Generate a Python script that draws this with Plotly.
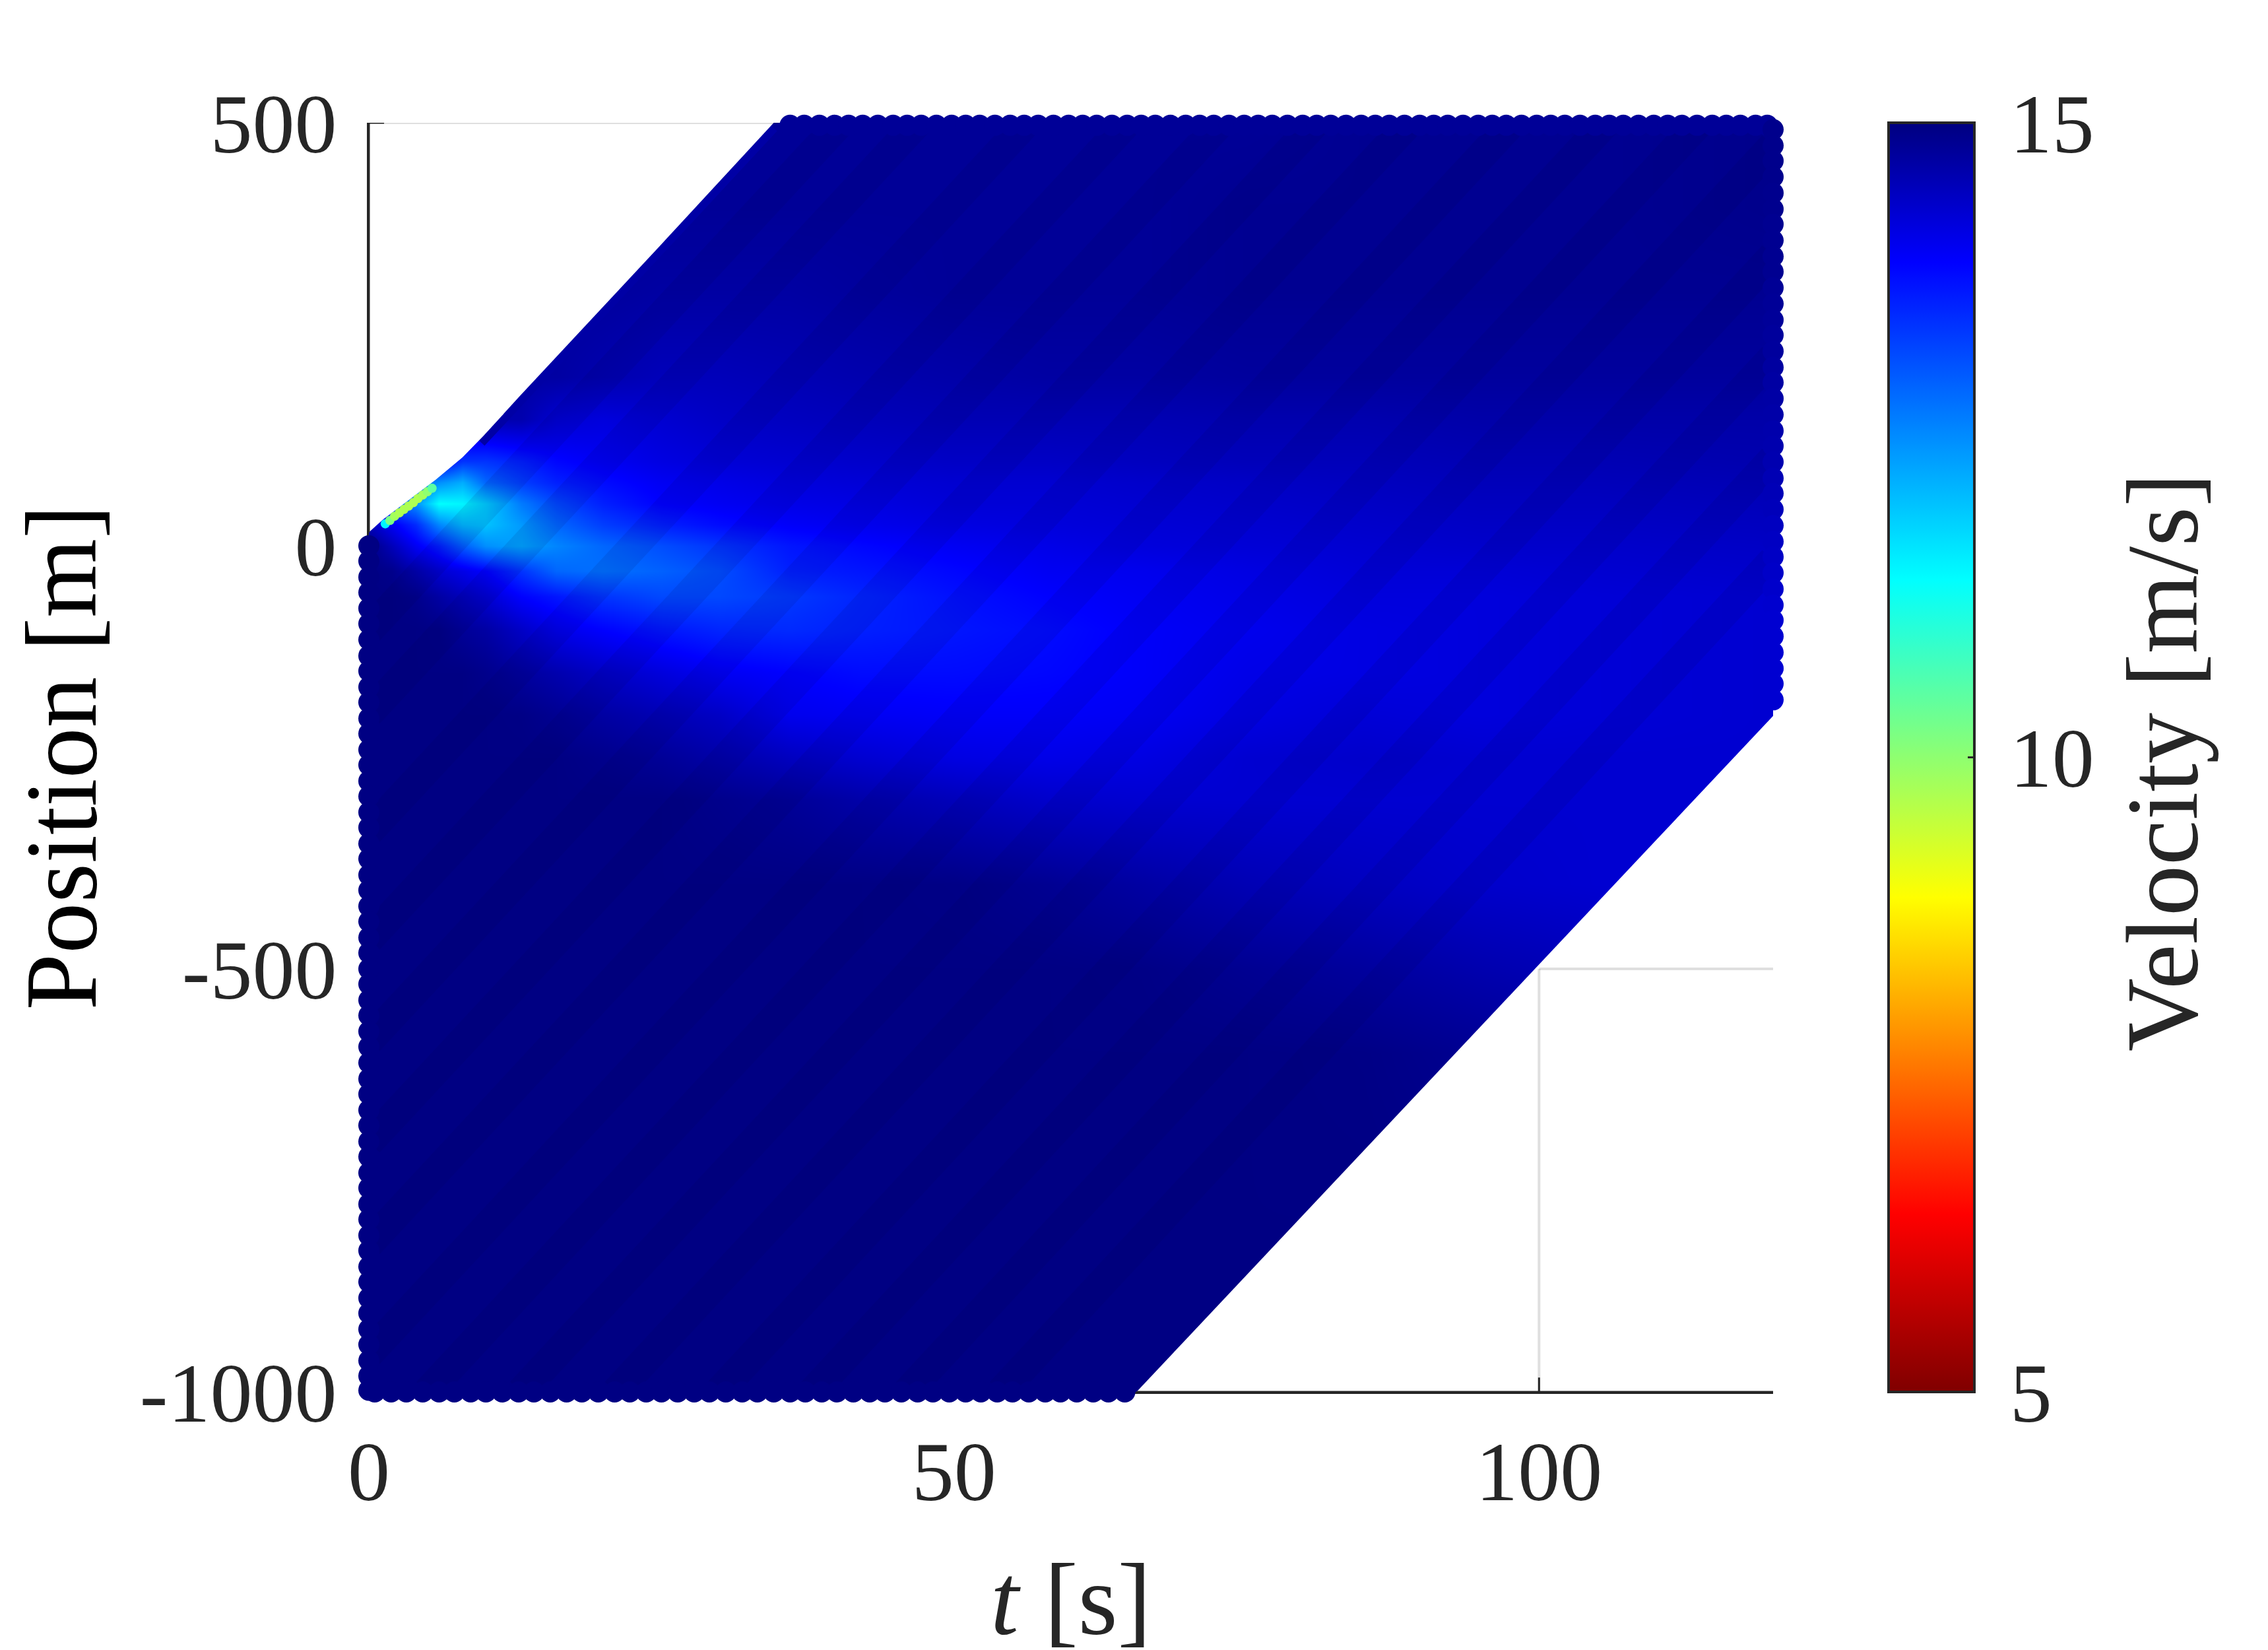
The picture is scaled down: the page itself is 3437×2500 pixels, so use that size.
import plotly.graph_objects as go

W, H = 3437, 2500
L, R, T, B = 559, 2687, 186, 2109
PAGE = 8  # page margin of the browser

# velocity field [m/s]
grid_t = [0, 2, 4, 6, 8, 10, 13, 16, 20, 25, 30, 36, 42, 50, 58, 66, 75, 85, 95, 105, 120]
grid_y = [-1000, -800, -600, -500, -400, -300, -250, -200, -150, -100, -60, -30, 0, 25, 50, 75, 100, 150, 200, 300, 400, 500]
velocity = [
    [14.97,14.97,14.97,14.97,14.97,14.97,14.97,14.97,14.97,14.97,14.97,14.97,14.97,14.97,14.97,14.97,14.97,14.97,14.97,14.97,14.97],
    [14.97,14.97,14.97,14.97,14.97,14.97,14.97,14.97,14.97,14.97,14.97,14.97,14.97,14.97,14.97,14.97,14.97,14.97,14.97,14.95,14.9],
    [14.97,14.97,14.97,14.97,14.97,14.97,14.97,14.97,14.97,14.97,14.97,14.97,14.97,14.97,14.97,14.97,14.97,14.95,14.85,14.75,14.6],
    [14.97,14.97,14.97,14.97,14.97,14.97,14.97,14.97,14.97,14.97,14.97,14.97,14.97,14.97,14.97,14.95,14.85,14.75,14.6,14.5,14.4],
    [14.97,14.97,14.97,14.97,14.97,14.97,14.97,14.97,14.97,14.97,14.97,14.97,14.97,14.95,14.85,14.7,14.55,14.45,14.35,14.3,14.3],
    [14.97,14.97,14.97,14.97,14.97,14.97,14.97,14.97,14.97,14.97,14.9,14.8,14.65,14.5,14.35,14.3,14.3,14.3,14.3,14.3,14.3],
    [14.97,14.97,14.97,14.97,14.97,14.97,14.97,14.97,14.9,14.8,14.65,14.45,14.3,14.15,14.1,14.15,14.3,14.35,14.3,14.3,14.3],
    [14.97,14.97,14.97,14.97,14.97,14.97,14.95,14.85,14.7,14.55,14.4,14.05,14.0,13.95,13.95,14.0,14.15,14.25,14.2,14.25,14.3],
    [14.97,14.97,14.97,14.97,14.97,14.9,14.75,14.6,14.4,14.2,14.0,13.9,13.8,13.8,13.85,13.95,14.1,14.15,14.2,14.25,14.3],
    [14.97,14.97,14.97,14.95,14.8,14.7,14.4,14.1,13.9,13.7,13.55,13.5,13.6,13.7,13.8,13.95,14.05,14.15,14.2,14.25,14.3],
    [14.97,14.97,14.9,14.7,14.5,14.3,13.9,13.7,13.4,13.2,13.2,13.35,13.55,13.75,13.9,14.0,14.1,14.2,14.2,14.25,14.3],
    [14.97,14.9,14.6,14.3,14.1,13.9,13.4,12.9,12.8,12.95,13.15,13.6,13.7,13.85,14.0,14.05,14.15,14.25,14.25,14.3,14.35],
    [14.97,14.5,14.0,13.6,13.0,12.5,12.3,12.6,12.9,13.15,13.4,13.7,13.85,14.0,14.1,14.2,14.25,14.3,14.35,14.35,14.4],
    [14.5,14.0,13.5,12.6,12.1,12.0,12.4,12.9,13.3,13.6,13.8,13.95,14.05,14.15,14.2,14.25,14.3,14.35,14.4,14.4,14.45],
    [14.0,13.0,12.5,11.4,11.5,11.9,12.7,13.2,13.6,13.9,14.0,14.1,14.15,14.25,14.25,14.3,14.35,14.4,14.45,14.45,14.5],
    [14.0,13.0,13.0,12.5,12.2,12.9,13.3,13.6,13.8,14.0,14.1,14.2,14.25,14.3,14.3,14.35,14.4,14.45,14.5,14.5,14.55],
    [14.0,14.0,14.0,14.0,13.4,13.4,13.6,13.85,14.0,14.15,14.25,14.3,14.35,14.4,14.4,14.45,14.5,14.5,14.55,14.55,14.6],
    [14.6,14.6,14.6,14.6,14.6,14.6,14.6,14.3,14.2,14.3,14.4,14.45,14.5,14.55,14.55,14.55,14.6,14.6,14.65,14.65,14.65],
    [14.7,14.7,14.7,14.7,14.7,14.7,14.7,14.7,14.6,14.5,14.5,14.55,14.6,14.65,14.7,14.7,14.75,14.75,14.75,14.75,14.75],
    [14.75,14.75,14.75,14.75,14.75,14.75,14.75,14.75,14.75,14.7,14.7,14.7,14.75,14.8,14.8,14.8,14.85,14.85,14.85,14.85,14.85],
    [14.8,14.8,14.8,14.8,14.8,14.8,14.8,14.8,14.8,14.8,14.8,14.8,14.8,14.8,14.8,14.8,14.85,14.85,14.85,14.85,14.9],
    [14.8,14.8,14.8,14.8,14.8,14.8,14.8,14.8,14.8,14.8,14.8,14.8,14.8,14.8,14.8,14.8,14.8,14.85,14.85,14.85,14.9],
]

# trajectories' end points seen along the edge of the cloud
left_y = [0,-18,-37,-55,-74,-92,-111,-130,-148,-167,-185,-204,-222,-241,-259,-278,-296,-315,-333,-352,-370,-389,-407,-426,-444,-463,-481,-500,-518,-537,-555,-574,-592,-611,-630,-648,-667,-685,-704,-722,-741,-759,-778,-796,-815,-833,-852,-870,-889,-907,-926,-944,-963,-981,-998]
bottom_t = [0.5,1.9,3.2,4.6,6,7.3,8.7,10,11.4,12.8,14.1,15.5,16.9,18.2,19.6,21,22.3,23.7,25,26.4,27.8,29.1,30.5,31.9,33.2,34.6,36,37.3,38.7,40,41.4,42.8,44.1,45.5,46.9,48.2,49.6,51,52.3,53.7,55,56.4,57.8,59.1,60.5,61.9,63.2,64.6]
top_t = [36,37.2,38.5,39.8,41,42.2,43.5,44.8,46,47.2,48.5,49.8,51,52.2,53.5,54.8,56,57.2,58.5,59.8,61,62.2,63.5,64.8,66,67.2,68.5,69.8,71,72.2,73.5,74.8,76,77.2,78.5,79.8,81,82.2,83.5,84.8,86,87.2,88.5,89.8,91,92.2,93.5,94.8,96,97.2,98.5,99.8,101,102.2,103.5,104.8,106,107.2,108.5,109.8,111,112.2,113.5,114.8,116,117.2,118.5,119.5]
right_y = [492,473,455,436,417,398,380,361,342,324,305,286,267,249,230,211,193,174,155,136,118,99,80,62,43,24,5,-13,-32,-51,-70,-88,-107,-126,-145,-163,-182]
right_v = [14.9,14.9,14.9,14.9,14.88,14.88,14.85,14.85,14.85,14.85,14.82,14.8,14.78,14.76,14.75,14.72,14.7,14.68,14.65,14.62,14.6,14.58,14.55,14.52,14.5,14.45,14.42,14.4,14.38,14.35,14.32,14.3,14.3,14.3,14.3,14.3,14.3]

# the slowest vehicle, a thin strip along the upper edge near the origin
slow_t = [1.4,1.8,2.2,2.6,3.0,3.4,3.8,4.2,4.6,5.0,5.4]
slow_y = [26,30,35,39,43,47,51,56,60,64,68]
slow_v = [11.5,10.2,9.8,9.7,9.7,9.7,9.7,9.7,9.8,10.0,10.5]

# the leading vehicle, a dark strip along the upper edge
lead_t = [9.6, 12.9, 24.9, 34.6]
lead_y = [122, 171, 349, 494]

# darker sides of the bands the vehicle paths leave
streak_t0 = [0,0,0,0,0,0,0,0,5,13,21.1,29.9,37.9,46,54]
streak_y0 = [-100,-198,-338,-465,-585,-705,-825,-955,-1000,-1000,-1000,-1000,-1000,-1000,-1000]
streak_t1 = [40.3,46.9,56.2,64.8,72.8,80.9,88.9,97.7,105.7,113.7,120,120,120,120,120]
streak_y1 = [500,500,500,500,500,500,500,500,500,500,473,343,223,103,-17]

# empty corners of the t-x plane
empty_tl_t = [0, 34.6, 24.9, 12.9, 9.8, 8.0, 5.7, 1.2, 0]
empty_tl_y = [500, 500, 355, 177, 130, 104.5, 78, 31, 16]
empty_br_t = [65.6, 120, 120]
empty_br_y = [-1000, -201, -1000]

# faint gridlines left visible in those corners
grid_x_line = [0, 35, None, 100, 100, None, 100, 120]
grid_y_line = [500, 500, None, -1000, -500, None, -500, -500]

# axis lines and inward ticks in the empty corners
axis_x_line = [0, 0, None, 0, 1.3, None, 65.6, 120, None, 100, 100]
axis_y_line = [16, 500, None, 500, 500, None, -1000, -1000, None, -1000, -983]

x_ticks = [0, 50, 100]
y_ticks = [-1000, -500, 0, 500]
y_ticktext = ["-1000", "-500", "0", "500"]
cbar_ticks = [5, 10, 15]

# MATLAB jet, flipped: 5 = dark red, 15 = dark blue
jet_flipped = [
    [0.0, "rgb(128,0,0)"], [0.14, "rgb(255,0,0)"], [0.39, "rgb(255,255,0)"],
    [0.64, "rgb(0,255,255)"], [0.89, "rgb(0,0,255)"], [1.0, "rgb(0,0,128)"],
]

INK = "#262626"
FONT = "Liberation Serif"
MS = 32
TICK = 128
TITLE = 154

fig = go.Figure()
fig.add_trace(go.Heatmap(x=grid_t, y=grid_y, z=velocity, zsmooth="best", coloraxis="coloraxis", hoverinfo="skip"))

sx, sy = [], []
for a, b, c, d in zip(streak_t0, streak_y0, streak_t1, streak_y1):
    sx += [a, c, None]
    sy += [b, d, None]
fig.add_trace(go.Scatter(x=sx, y=sy, mode="lines", line=dict(color="rgba(0,0,70,0.09)", width=45), showlegend=False, hoverinfo="skip"))
fig.add_trace(go.Scatter(x=lead_t, y=lead_y, mode="lines", line=dict(color="rgb(0,0,165)", width=14), showlegend=False, hoverinfo="skip"))

for tx, ty in ((empty_tl_t, empty_tl_y), (empty_br_t, empty_br_y)):
    fig.add_trace(go.Scatter(x=tx, y=ty, mode="lines", fill="toself", fillcolor="white", line=dict(width=0), showlegend=False, hoverinfo="skip"))
fig.add_trace(go.Scatter(x=grid_x_line, y=grid_y_line, mode="lines", line=dict(color="rgba(38,38,38,0.15)", width=4), showlegend=False, hoverinfo="skip"))
fig.add_trace(go.Scatter(x=axis_x_line, y=axis_y_line, mode="lines", cliponaxis=False, line=dict(color=INK, width=3), showlegend=False, hoverinfo="skip"))

def edge(xs, ys, vs, size):
    fig.add_trace(go.Scatter(x=xs, y=ys, mode="markers", cliponaxis=False, showlegend=False,
                             marker=dict(size=size, color=vs, coloraxis="coloraxis", line=dict(width=0))))

edge(slow_t, slow_y, slow_v, 14)
edge([0]*len(left_y), left_y, [14.97]*len(left_y), MS)
edge(bottom_t, [-1000]*len(bottom_t), [14.97]*len(bottom_t), MS)
edge(top_t, [497]*len(top_t), [14.8]*len(top_t), MS)
edge([120]*len(right_y), right_y, right_v, MS)

fig.update_layout(
    width=W, height=H, autosize=False,
    margin=dict(l=L-PAGE, r=W-R+PAGE, t=T-PAGE, b=H-B+PAGE),
    paper_bgcolor="white", plot_bgcolor="white",
    font=dict(family=FONT, color=INK, size=TICK),
    showlegend=False,
    coloraxis=dict(
        cmin=5, cmax=15, colorscale=jet_flipped,
        colorbar=dict(
            xref="container", x=2854/W, xanchor="left", thickness=130, thicknessmode="pixels",
            lenmode="fraction", len=1, y=0.5, yanchor="middle", ypad=0, xpad=0,
            outlinecolor=INK, outlinewidth=4,
            tickmode="array", tickvals=cbar_ticks, ticktext=["\u2009" + str(v) for v in cbar_ticks],
            ticks="inside", ticklen=12, tickwidth=3, tickcolor=INK,
            tickfont=dict(family=FONT, size=TICK, color=INK),
        ),
    ),
    xaxis=dict(
        range=[0, 120], tickmode="array", tickvals=x_ticks, ticktext=[str(v) for v in x_ticks],
        ticks="inside", ticklen=22, tickwidth=3, tickcolor=INK,
        showline=True, linecolor=INK, linewidth=3, showgrid=False, zeroline=False, layer="below traces",
        tickfont=dict(family=FONT, size=TICK, color=INK), ticklabelstandoff=7,
        title=dict(text="<i>t</i> [s]", font=dict(family=FONT, size=TITLE, color=INK), standoff=85),
    ),
    yaxis=dict(
        range=[-1000, 500], tickmode="array", tickvals=y_ticks, ticktext=y_ticktext,
        ticks="inside", ticklen=22, tickwidth=3, tickcolor=INK,
        showline=True, linecolor=INK, linewidth=3, showgrid=False, zeroline=False, layer="below traces",
        tickfont=dict(family=FONT, size=TICK, color=INK), ticklabelstandoff=20,
        title=dict(text="Position [m]", font=dict(family=FONT, size=TITLE, color="black"), standoff=60),
    ),
    annotations=[dict(
        text="Velocity [m/s]", textangle=-90, showarrow=False,
        xref="paper", yref="paper", x=(3277-L)/(R-L), y=0.496, xanchor="center", yanchor="middle",
        font=dict(family=FONT, size=TITLE, color=INK),
    )],
)
fig.write_html("out.html")
